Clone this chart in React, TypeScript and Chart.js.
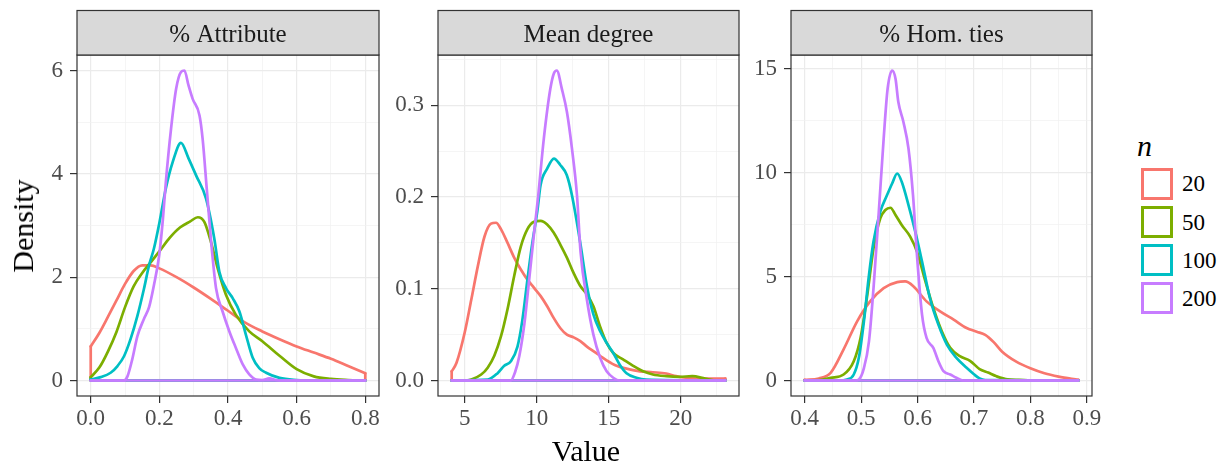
import React, { useEffect, useRef } from "react";
import { Chart, registerables } from "chart.js";

Chart.register(...registerables);

const FONT = "'Liberation Serif', 'Times New Roman', serif";

// ---------- labels ----------
const groupLabels = ["20", "50", "100", "200"];
const groupColors = ["#F8766D", "#7CAE00", "#00BFC4", "#C77CFF"];
const facetTitles = ["% Attribute", "Mean degree", "% Hom. ties"];
const xAxisTitle = "Value";
const yAxisTitle = "Density";
const legendTitle = "n";

// ---------- Panel 1: % Attribute ----------
const attrX20 = [0, 0.025, 0.05, 0.075, 0.1, 0.125, 0.15, 0.175, 0.2, 0.25, 0.3, 0.35, 0.4, 0.45, 0.5, 0.55, 0.6, 0.65, 0.7, 0.75, 0.8];
const attrY20 = [0.66, 0.92, 1.23, 1.55, 1.87, 2.12, 2.23, 2.23, 2.17, 2.0, 1.8, 1.58, 1.35, 1.12, 0.95, 0.8, 0.66, 0.54, 0.42, 0.28, 0.14];
const attrX50 = [0, 0.025, 0.05, 0.075, 0.1, 0.125, 0.15, 0.175, 0.2, 0.23, 0.26, 0.29, 0.312, 0.331, 0.35, 0.37, 0.394, 0.423, 0.462, 0.5, 0.55, 0.6, 0.65, 0.7, 0.75, 0.8];
const attrY50 = [0.065, 0.25, 0.56, 0.94, 1.42, 1.82, 2.08, 2.29, 2.5, 2.76, 2.96, 3.08, 3.16, 3.07, 2.69, 2.17, 1.66, 1.27, 0.95, 0.76, 0.48, 0.22, 0.08, 0.03, 0.01, 0];
const attrX100 = [0, 0.029, 0.058, 0.078, 0.097, 0.116, 0.136, 0.155, 0.17, 0.184, 0.2, 0.219, 0.239, 0.263, 0.285, 0.307, 0.336, 0.36, 0.375, 0.394, 0.414, 0.433, 0.452, 0.472, 0.491, 0.511, 0.55, 0.6, 0.65, 0.8];
const attrY100 = [0.02, 0.065, 0.15, 0.28, 0.47, 0.8, 1.25, 1.77, 2.23, 2.55, 3.05, 3.72, 4.23, 4.6, 4.3, 3.97, 3.52, 2.75, 2.1, 1.79, 1.59, 1.34, 0.89, 0.44, 0.24, 0.15, 0.05, 0.01, 0, 0];
const attrX200 = [0, 0.097, 0.107, 0.121, 0.136, 0.155, 0.17, 0.184, 0.199, 0.21, 0.219, 0.234, 0.249, 0.263, 0.273, 0.285, 0.297, 0.317, 0.326, 0.338, 0.35, 0.365, 0.384, 0.404, 0.423, 0.443, 0.462, 0.482, 0.5, 0.52, 0.54, 0.56, 0.8];
const attrY200 = [0, 0, 0.08, 0.41, 0.86, 1.19, 1.42, 1.84, 2.4, 3.1, 3.85, 4.87, 5.65, 5.97, 6.0, 5.71, 5.45, 5.13, 4.68, 3.72, 2.75, 1.79, 1.34, 0.95, 0.63, 0.31, 0.12, 0.02, 0.01, 0.04, 0.01, 0, 0];
const attrXMajor = [0, 0.2, 0.4, 0.6, 0.8];
const attrXMinor = [0.1, 0.3, 0.5, 0.7];
const attrYMajor = [0, 2, 4, 6];
const attrYMinor = [1, 3, 5];

// ---------- Panel 2: Mean degree ----------
const degX20 = [4.1, 4.43, 5.0, 5.46, 5.92, 6.38, 6.83, 7.18, 7.52, 7.98, 8.44, 8.9, 9.36, 9.82, 10.28, 10.73, 11.19, 11.65, 12.1, 12.57, 13.03, 13.49, 13.94, 14.4, 14.86, 15.55, 16.24, 17.16, 18.07, 19.0, 19.68, 20.37, 21.7, 23.1];
const degY20 = [0.01, 0.019, 0.052, 0.088, 0.125, 0.157, 0.171, 0.172, 0.165, 0.15, 0.134, 0.121, 0.11, 0.101, 0.092, 0.081, 0.068, 0.057, 0.05, 0.047, 0.043, 0.037, 0.032, 0.027, 0.022, 0.016, 0.013, 0.01, 0.009, 0.0076, 0.0047, 0.003, 0.002, 0.002];
const degX50 = [4.1, 5, 5.46, 6.15, 6.6, 7.06, 7.52, 7.98, 8.44, 8.9, 9.36, 9.82, 10.28, 10.73, 11.19, 11.65, 12.1, 12.57, 13.03, 13.49, 13.94, 14.4, 14.86, 15.32, 16.0, 16.7, 17.39, 18.07, 19.0, 19.9, 20.8, 21.7, 22.4, 23.1];
const degY50 = [0, 0, 0.001, 0.0065, 0.014, 0.027, 0.048, 0.078, 0.114, 0.146, 0.165, 0.173, 0.174, 0.17, 0.161, 0.148, 0.134, 0.117, 0.103, 0.094, 0.081, 0.059, 0.041, 0.03, 0.023, 0.016, 0.01, 0.0065, 0.0047, 0.004, 0.0047, 0.002, 0, 0];
const degX100 = [4.1, 6.6, 7.29, 7.75, 8.21, 8.67, 9.0, 9.36, 9.7, 10.05, 10.27, 10.73, 11.2, 11.64, 12.09, 12.45, 13.03, 13.49, 13.94, 14.4, 14.86, 15.32, 15.78, 16.24, 16.93, 17.6, 23.1];
const degY100 = [0, 0.001, 0.008, 0.016, 0.021, 0.037, 0.065, 0.11, 0.15, 0.185, 0.213, 0.231, 0.242, 0.235, 0.224, 0.202, 0.15, 0.103, 0.072, 0.054, 0.041, 0.03, 0.017, 0.008, 0.003, 0.001, 0];
const degX200 = [4.1, 8.2, 8.5, 8.8, 9.15, 9.5, 9.85, 10.1, 10.5, 10.95, 11.2, 11.4, 11.75, 12.1, 12.45, 12.8, 13.05, 13.49, 13.94, 14.4, 14.86, 15.32, 15.78, 23.1];
const degY200 = [0, 0, 0.009, 0.027, 0.062, 0.113, 0.165, 0.2, 0.264, 0.318, 0.335, 0.338, 0.318, 0.293, 0.253, 0.202, 0.14, 0.088, 0.05, 0.025, 0.01, 0.003, 0, 0];
const degXMajor = [5, 10, 15, 20];
const degXMinor = [7.5, 12.5, 17.5, 22.5];
const degYMajor = [0, 0.1, 0.2, 0.3];
const degYMinor = [0.05, 0.15, 0.25, 0.35];

// ---------- Panel 3: % Hom. ties ----------
const homX20 = [0.4, 0.425, 0.446, 0.469, 0.493, 0.516, 0.54, 0.564, 0.578, 0.593, 0.616, 0.64, 0.664, 0.687, 0.705, 0.72, 0.735, 0.75, 0.775, 0.8, 0.825, 0.85, 0.885];
const homY20 = [0.03, 0.1, 0.37, 1.5, 2.85, 3.81, 4.45, 4.74, 4.77, 4.53, 3.81, 3.33, 2.93, 2.53, 2.35, 2.2, 1.85, 1.39, 0.91, 0.59, 0.35, 0.19, 0.03];
const homX50 = [0.4, 0.425, 0.446, 0.469, 0.487, 0.499, 0.511, 0.522, 0.534, 0.543, 0.552, 0.561, 0.572, 0.587, 0.599, 0.614, 0.628, 0.643, 0.658, 0.675, 0.693, 0.71, 0.725, 0.74, 0.76, 0.78, 0.8, 0.885];
const homY50 = [0, 0.02, 0.13, 0.29, 0.93, 2.05, 4.13, 6.37, 7.81, 8.21, 8.32, 7.97, 7.49, 6.93, 6.21, 4.77, 3.49, 2.37, 1.57, 1.17, 0.95, 0.55, 0.38, 0.2, 0.05, 0.03, 0.01, 0];
const homX100 = [0.4, 0.46, 0.475, 0.487, 0.496, 0.505, 0.514, 0.522, 0.534, 0.546, 0.555, 0.564, 0.572, 0.584, 0.596, 0.608, 0.622, 0.637, 0.652, 0.669, 0.687, 0.7, 0.71, 0.72, 0.885];
const homY100 = [0, 0, 0.05, 0.29, 1.09, 2.85, 5.09, 6.69, 8.13, 8.93, 9.49, 9.97, 9.57, 8.45, 7.17, 5.73, 3.97, 2.69, 1.73, 1.09, 0.61, 0.3, 0.1, 0.02, 0];
const homX200 = [0.4, 0.49, 0.496, 0.505, 0.514, 0.522, 0.531, 0.54, 0.547, 0.555, 0.561, 0.566, 0.575, 0.584, 0.592, 0.599, 0.608, 0.616, 0.628, 0.637, 0.646, 0.658, 0.669, 0.681, 0.885];
const homY200 = [0, 0, 0.05, 0.6, 1.9, 4.45, 7.97, 11.65, 14.05, 14.93, 14.53, 13.41, 12.45, 11.17, 8.93, 6.05, 3.17, 2.05, 1.57, 0.93, 0.45, 0.29, 0.13, 0, 0];
const homXMajor = [0.4, 0.5, 0.6, 0.7, 0.8, 0.9];
const homXMinor = [0.45, 0.55, 0.65, 0.75, 0.85];
const homYMajor = [0, 5, 10, 15];
const homYMinor = [2.5, 7.5, 12.5];

const panels = [
  {
    title: facetTitles[0],
    xs: [attrX20, attrX50, attrX100, attrX200],
    ys: [attrY20, attrY50, attrY100, attrY200],
    xMajor: attrXMajor, xMinor: attrXMinor, yMajor: attrYMajor, yMinor: attrYMinor,
    xDec: 1, yDec: 0,
  },
  {
    title: facetTitles[1],
    xs: [degX20, degX50, degX100, degX200],
    ys: [degY20, degY50, degY100, degY200],
    xMajor: degXMajor, xMinor: degXMinor, yMajor: degYMajor, yMinor: degYMinor,
    xDec: 0, yDec: 1,
  },
  {
    title: facetTitles[2],
    xs: [homX20, homX50, homX100, homX200],
    ys: [homY20, homY50, homY100, homY200],
    xMajor: homXMajor, xMinor: homXMinor, yMajor: homYMajor, yMinor: homYMinor,
    xDec: 1, yDec: 0,
  },
];

// ---------- layout (pixels) ----------
const H = 468;
const geoms = [
  { left: 0, width: 390, yAxisW: 77, padRight: 11 },
  { left: 388, width: 360, yAxisW: 50, padRight: 9 },
  { left: 741, width: 370, yAxisW: 50, padRight: 19 },
];
const PANEL_TOP = 55;
const PANEL_BOTTOM = 396;
const STRIP_TOP = 10.5;
const LINE_W = 2.7;

function expand(lo: number, hi: number) {
  const d = (hi - lo) * 0.05;
  return [lo - d, hi + d];
}

function buildTicks(major: number[], minor: number[]) {
  return [
    ...major.map((v) => ({ value: v, isMajor: true })),
    ...minor.map((v) => ({ value: v, isMajor: false })),
  ].sort((a, b) => a.value - b.value);
}

function gridOpts() {
  return {
    display: true,
    drawOnChartArea: true,
    drawTicks: true,
    tickLength: 7,
    tickWidth: 1.2,
    color: (c: any) => (c.tick && c.tick.isMajor ? "#EBEBEB" : "#F0F0F0"),
    lineWidth: (c: any) => (c.tick && c.tick.isMajor ? 1.2 : 0.7),
    tickColor: (c: any) => (c.tick && c.tick.isMajor ? "#333333" : "rgba(0,0,0,0)"),
  };
}

function makeFramePlugin(title: string) {
  return {
    id: "panelFrame",
    afterDraw(chart: any) {
      const { ctx, chartArea: a } = chart;
      ctx.save();
      ctx.strokeStyle = "#333333";
      ctx.lineWidth = 1.2;
      ctx.strokeRect(a.left, a.top, a.right - a.left, a.bottom - a.top);
      ctx.fillStyle = "#D9D9D9";
      ctx.fillRect(a.left, STRIP_TOP, a.right - a.left, a.top - STRIP_TOP);
      ctx.strokeRect(a.left, STRIP_TOP, a.right - a.left, a.top - STRIP_TOP);
      ctx.fillStyle = "#1A1A1A";
      ctx.font = `25px ${FONT}`;
      ctx.textAlign = "center";
      ctx.textBaseline = "alphabetic";
      ctx.fillText(title, (a.left + a.right) / 2, 41.5);
      ctx.restore();
    },
  };
}

function buildConfig(p: any, g: any) {
  const allX = p.xs.flat();
  const allY = p.ys.flat();
  const [xMin, xMax] = expand(Math.min(...allX), Math.max(...allX));
  const [yMin, yMax] = expand(0, Math.max(...allY));
  const xTicks = buildTicks(p.xMajor, p.xMinor);
  const yTicks = buildTicks(p.yMajor, p.yMinor);

  const datasets: any[] = [];
  for (let k = 0; k < groupLabels.length; k++) {
    const xs = p.xs[k];
    const ys = p.ys[k];
    const n = xs.length;
    const color = groupColors[k];
    datasets.push({
      label: groupLabels[k],
      data: xs.map((x: number, i: number) => ({ x, y: ys[i] })),
      borderColor: color,
      borderWidth: LINE_W,
      pointRadius: 0,
      fill: false,
      cubicInterpolationMode: "monotone",
      borderJoinStyle: "round",
      borderCapStyle: "round",
      order: 2 * (groupLabels.length - 1 - k),
    });
    datasets.push({
      label: groupLabels[k] + " baseline",
      data: [
        { x: xs[0], y: ys[0] },
        { x: xs[0], y: 0 },
        { x: xs[n - 1], y: 0 },
        { x: xs[n - 1], y: ys[n - 1] },
      ],
      borderColor: color,
      borderWidth: LINE_W,
      pointRadius: 0,
      fill: false,
      tension: 0,
      borderJoinStyle: "round",
      borderCapStyle: "round",
      order: 2 * (groupLabels.length - 1 - k) + 1,
    });
  }

  const tickFont = { family: FONT, size: 23 };

  return {
    type: "line",
    data: { datasets },
    options: {
      animation: false,
      responsive: false,
      maintainAspectRatio: false,
      events: [],
      layout: { padding: { top: PANEL_TOP, left: 0, right: g.padRight, bottom: 0 }, autoPadding: false },
      plugins: { legend: { display: false }, tooltip: { enabled: false }, title: { display: false } },
      scales: {
        x: {
          type: "linear",
          min: xMin,
          max: xMax,
          afterBuildTicks: (s: any) => {
            s.ticks = xTicks.map((t) => ({ ...t }));
          },
          afterFit: (s: any) => {
            s.height = H - PANEL_BOTTOM;
          },
          ticks: {
            autoSkip: false,
            maxRotation: 0,
            minRotation: 0,
            padding: 2,
            color: "#4D4D4D",
            font: tickFont,
            callback: (v: number, i: number, ticks: any[]) =>
              ticks[i] && ticks[i].isMajor ? Number(v).toFixed(p.xDec) : "",
          },
          grid: gridOpts(),
          border: { display: false },
        },
        y: {
          type: "linear",
          min: yMin,
          max: yMax,
          afterBuildTicks: (s: any) => {
            s.ticks = yTicks.map((t) => ({ ...t }));
          },
          afterFit: (s: any) => {
            s.width = g.yAxisW;
          },
          ticks: {
            autoSkip: false,
            padding: 7,
            color: "#4D4D4D",
            font: tickFont,
            callback: (v: number, i: number, ticks: any[]) =>
              ticks[i] && ticks[i].isMajor ? Number(v).toFixed(p.yDec) : "",
          },
          grid: gridOpts(),
          border: { display: false },
        },
      },
    },
    plugins: [makeFramePlugin(p.title)],
  };
}

export default function App() {
  const r0 = useRef<HTMLCanvasElement>(null);
  const r1 = useRef<HTMLCanvasElement>(null);
  const r2 = useRef<HTMLCanvasElement>(null);
  const refs = [r0, r1, r2];

  useEffect(() => {
    const charts = panels.map(
      (p, i) => new Chart(refs[i].current as HTMLCanvasElement, buildConfig(p, geoms[i]) as any)
    );
    return () => charts.forEach((c) => c.destroy());
  }, []);

  const legendTop = 167.5;
  const legendStep = 38.3;

  return (
    <div
      style={{
        position: "absolute",
        left: 0,
        top: 0,
        width: 1225,
        height: H,
        background: "#ffffff",
        overflow: "hidden",
        fontFamily: FONT,
      }}
    >
      {geoms.map((g, i) => (
        <canvas
          key={i}
          ref={refs[i]}
          width={g.width}
          height={H}
          style={{ position: "absolute", left: g.left, top: 0, width: g.width, height: H }}
        />
      ))}

      {/* y axis title */}
      <div
        style={{
          position: "absolute",
          left: 23,
          top: 225.5,
          fontSize: 30,
          lineHeight: "30px",
          whiteSpace: "nowrap",
          color: "#000",
          transform: "translate(-50%, -50%) rotate(-90deg)",
        }}
      >
        {yAxisTitle}
      </div>

      {/* x axis title */}
      <div
        style={{
          position: "absolute",
          left: 586,
          top: 436,
          fontSize: 30,
          lineHeight: "30px",
          whiteSpace: "nowrap",
          color: "#000",
          transform: "translateX(-50%)",
        }}
      >
        {xAxisTitle}
      </div>

      {/* legend */}
      <div
        style={{
          position: "absolute",
          left: 1137,
          top: 156 - 24.8,
          fontSize: 30,
          lineHeight: "30px",
          fontStyle: "italic",
          color: "#000",
        }}
      >
        {legendTitle}
      </div>
      {groupLabels.map((lab, i) => (
        <React.Fragment key={lab}>
          <div
            style={{
              position: "absolute",
              left: 1141,
              top: legendTop + i * legendStep,
              width: 32,
              height: 32,
              boxSizing: "border-box",
              border: `3px solid ${groupColors[i]}`,
              background: "#ffffff",
            }}
          />
          <div
            style={{
              position: "absolute",
              left: 1182,
              top: 191.7 + i * legendStep - 19.3,
              fontSize: 23,
              lineHeight: "23px",
              color: "#000",
              whiteSpace: "nowrap",
            }}
          >
            {lab}
          </div>
        </React.Fragment>
      ))}
    </div>
  );
}
